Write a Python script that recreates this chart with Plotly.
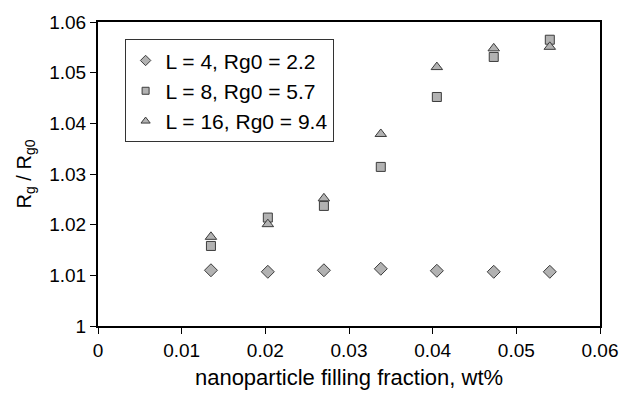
import plotly.graph_objects as go

x_frac = [0.0135, 0.0203, 0.027, 0.0338, 0.0405, 0.0473, 0.054]
y_L4 = [1.0110, 1.0107, 1.0110, 1.0113, 1.0109, 1.0107, 1.0107]
y_L8 = [1.0158, 1.0214, 1.0237, 1.0314, 1.0452, 1.0531, 1.0565]
y_L16 = [1.0176, 1.0201, 1.0252, 1.0379, 1.0511, 1.0548, 1.0551]
names = ["L = 4, Rg0 = 2.2", "L = 8, Rg0 = 5.7", "L = 16, Rg0 = 9.4"]
x_ticks = [0, 0.01, 0.02, 0.03, 0.04, 0.05, 0.06]
x_ticklabels = ["0", "0.01", "0.02", "0.03", "0.04", "0.05", "0.06"]
y_ticks = [1, 1.01, 1.02, 1.03, 1.04, 1.05, 1.06]
y_ticklabels = ["1", "1.01", "1.02", "1.03", "1.04", "1.05", "1.06"]

fill = "#b2b2b2"
edge = "#3c3c3c"
fig = go.Figure()
series = [(y_L4, names[0], "diamond", 10, 8),
          (y_L8, names[1], "square", 9, 7),
          (y_L16, names[2], "triangle-up", 10, 8)]
for ys, nm, sym, sz, lsz in series:
    fig.add_trace(go.Scatter(
        x=x_frac, y=ys, mode="markers", name=nm, showlegend=False,
        marker=dict(symbol=sym, size=sz, color=fill,
                    line=dict(color=edge, width=1))))
for i, (ys, nm, sym, sz, lsz) in enumerate(series):
    fig.add_trace(go.Scatter(
        x=[None], y=[None], mode="markers", name=nm, legendgroup=f"g{i}",
        marker=dict(symbol=sym, size=lsz, color=fill,
                    line=dict(color=edge, width=1))))

font = "Liberation Sans, Arial, sans-serif"
fig.update_layout(
    width=630, height=399,
    margin=dict(l=98, r=23, t=21, b=73),
    paper_bgcolor="white", plot_bgcolor="white",
    font=dict(family=font, size=19, color="black"),
    showlegend=True,
    legend=dict(x=0.053, y=0.943, xanchor="left", yanchor="top",
                bgcolor="white", bordercolor="#333333", borderwidth=1,
                font=dict(size=21), itemsizing="trace",
                tracegroupgap=0, itemwidth=30),
    xaxis=dict(range=[0, 0.06], tickvals=x_ticks, ticktext=x_ticklabels,
               showgrid=False, zeroline=False, showline=True,
               linecolor="black", linewidth=2, mirror=True,
               ticks="outside", ticklen=6, tickcolor="black",
               tickfont=dict(size=19),
               title=dict(text="nanoparticle filling fraction, wt%",
                          font=dict(size=22), standoff=10)),
    yaxis=dict(range=[1, 1.06], tickvals=y_ticks, ticktext=y_ticklabels,
               showgrid=False, zeroline=False, showline=True,
               linecolor="black", linewidth=2, mirror=True,
               ticks="outside", ticklen=6, tickcolor="black",
               tickfont=dict(size=19),
               title=dict(text="R<sub>g</sub> / R<sub>g0</sub>",
                          font=dict(size=20), standoff=12)),
)
fig.write_html("out.html")
